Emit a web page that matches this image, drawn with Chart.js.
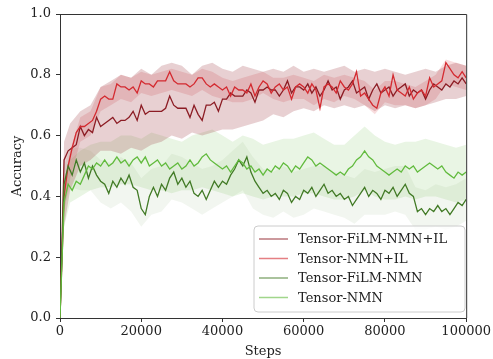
<!DOCTYPE html>
<html><head><meta charset="utf-8">
<script src="https://cdn.jsdelivr.net/npm/chart.js@4.4.1/dist/chart.umd.min.js"></script>
<style>html,body{margin:0;padding:0;background:#fff}#wrap{width:493px;height:359px;position:relative}</style>
</head><body><div id="wrap"><canvas id="c"></canvas></div>
<script>
const seriesNames = ["Tensor-FiLM-NMN+IL", "Tensor-NMN+IL", "Tensor-FiLM-NMN", "Tensor-NMN"];
const xTicks = [0, 20000, 40000, 60000, 80000, 100000];
const yTicks = [0.0, 0.2, 0.4, 0.6, 0.8, 1.0];

const steps = [0,1000,2000,3000,4000,5000,6000,7000,8000,9000,
10000,11000,12000,13000,14000,15000,16000,17000,18000,19000,
20000,21000,22000,23000,24000,25000,26000,27000,28000,29000,
30000,31000,32000,33000,34000,35000,36000,37000,38000,39000,
40000,41000,42000,43000,44000,45000,46000,47000,48000,49000,
50000,51000,52000,53000,54000,55000,56000,57000,58000,59000,
60000,61000,62000,63000,64000,65000,66000,67000,68000,69000,
70000,71000,72000,73000,74000,75000,76000,77000,78000,79000,
80000,81000,82000,83000,84000,85000,86000,87000,88000,89000,
90000,91000,92000,93000,94000,95000,96000,97000,98000,99000,100000];

const filmNmnIL = [0.0,0.52,0.55,0.56,0.57,0.63,0.60,0.62,0.61,0.66,
0.63,0.64,0.65,0.66,0.64,0.65,0.65,0.66,0.68,0.65,
0.70,0.67,0.68,0.68,0.68,0.68,0.69,0.73,0.70,0.69,
0.69,0.69,0.66,0.70,0.67,0.65,0.70,0.70,0.71,0.68,
0.72,0.72,0.74,0.73,0.73,0.73,0.75,0.74,0.71,0.75,
0.75,0.76,0.75,0.75,0.73,0.75,0.78,0.74,0.76,0.76,
0.75,0.77,0.74,0.76,0.73,0.75,0.78,0.75,0.76,0.72,
0.75,0.76,0.78,0.74,0.75,0.76,0.72,0.75,0.77,0.74,
0.75,0.76,0.73,0.75,0.76,0.77,0.73,0.75,0.74,0.75,
0.72,0.75,0.77,0.76,0.75,0.77,0.76,0.78,0.77,0.79,0.77];

const nmnIL = [0.0,0.40,0.50,0.56,0.61,0.63,0.63,0.64,0.65,0.68,
0.72,0.73,0.72,0.72,0.77,0.76,0.76,0.75,0.76,0.74,
0.78,0.77,0.77,0.76,0.78,0.78,0.78,0.81,0.78,0.77,
0.77,0.77,0.76,0.77,0.79,0.79,0.77,0.76,0.77,0.76,
0.75,0.76,0.73,0.76,0.75,0.75,0.74,0.77,0.73,0.76,
0.78,0.77,0.74,0.76,0.77,0.75,0.76,0.72,0.76,0.77,
0.76,0.74,0.77,0.75,0.69,0.76,0.77,0.76,0.74,0.78,
0.76,0.75,0.77,0.81,0.73,0.74,0.72,0.70,0.69,0.74,
0.76,0.73,0.80,0.75,0.74,0.73,0.76,0.72,0.74,0.75,
0.73,0.79,0.76,0.77,0.78,0.84,0.82,0.80,0.79,0.81,0.79];

const filmNmn = [0.0,0.44,0.50,0.47,0.52,0.48,0.51,0.46,0.50,0.47,
0.45,0.44,0.41,0.45,0.43,0.46,0.44,0.47,0.43,0.42,
0.36,0.34,0.40,0.43,0.40,0.44,0.42,0.46,0.48,0.44,
0.46,0.43,0.45,0.41,0.40,0.42,0.39,0.42,0.45,0.43,
0.45,0.44,0.47,0.49,0.52,0.50,0.53,0.48,0.45,0.43,
0.41,0.42,0.40,0.41,0.39,0.42,0.41,0.38,0.40,0.39,
0.42,0.41,0.43,0.40,0.42,0.44,0.41,0.42,0.40,0.41,
0.39,0.40,0.37,0.39,0.41,0.43,0.40,0.42,0.41,0.39,
0.42,0.41,0.43,0.40,0.42,0.44,0.41,0.40,0.35,0.36,
0.34,0.36,0.35,0.37,0.35,0.36,0.34,0.36,0.38,0.37,0.39];

const nmn = [0.0,0.38,0.44,0.42,0.45,0.44,0.47,0.50,0.49,0.51,
0.50,0.52,0.50,0.51,0.53,0.51,0.52,0.50,0.52,0.53,
0.51,0.53,0.50,0.51,0.52,0.50,0.51,0.49,0.50,0.51,
0.49,0.50,0.52,0.50,0.51,0.53,0.54,0.52,0.51,0.50,
0.49,0.50,0.48,0.50,0.52,0.51,0.49,0.50,0.48,0.49,
0.47,0.49,0.48,0.50,0.49,0.51,0.50,0.48,0.50,0.49,
0.51,0.53,0.52,0.50,0.51,0.50,0.49,0.48,0.47,0.48,
0.47,0.49,0.50,0.52,0.53,0.55,0.53,0.52,0.50,0.49,
0.48,0.47,0.48,0.49,0.48,0.50,0.49,0.50,0.48,0.49,
0.50,0.51,0.50,0.49,0.50,0.48,0.47,0.46,0.48,0.47,0.48];

const bandSteps = [0,1000,2500,5000,7500,10000,12500,15000,17500,20000,
22500,25000,27500,30000,32500,35000,37500,40000,42500,45000,
47500,50000,52500,55000,57500,60000,62500,65000,67500,70000,
72500,75000,77500,80000,82500,85000,87500,90000,92500,95000,97500,100000];

const filmNmnILLow = [0,0.30,0.42,0.50,0.52,0.55,0.55,0.54,0.56,0.55,
0.57,0.58,0.60,0.59,0.61,0.60,0.61,0.62,0.62,0.63,
0.64,0.65,0.67,0.66,0.68,0.69,0.68,0.70,0.69,0.70,
0.69,0.70,0.68,0.70,0.69,0.70,0.69,0.70,0.71,0.72,0.72,0.73];
const filmNmnILHigh = [0,0.58,0.64,0.68,0.70,0.76,0.78,0.80,0.79,0.82,
0.80,0.83,0.84,0.83,0.80,0.83,0.84,0.82,0.81,0.83,
0.82,0.81,0.82,0.81,0.83,0.81,0.82,0.81,0.82,0.83,
0.81,0.82,0.81,0.82,0.81,0.80,0.81,0.82,0.81,0.83,0.84,0.83];
const nmnILLow = [0,0.35,0.46,0.58,0.60,0.68,0.70,0.72,0.71,0.74,
0.73,0.74,0.75,0.74,0.73,0.75,0.73,0.72,0.71,0.71,
0.72,0.74,0.72,0.71,0.72,0.72,0.70,0.72,0.71,0.73,
0.72,0.70,0.67,0.71,0.70,0.70,0.69,0.70,0.72,0.77,0.76,0.75];
const nmnILHigh = [0,0.45,0.55,0.66,0.68,0.76,0.77,0.80,0.79,0.81,
0.80,0.81,0.82,0.81,0.80,0.82,0.81,0.79,0.78,0.79,
0.80,0.81,0.79,0.79,0.80,0.79,0.78,0.80,0.79,0.80,
0.79,0.78,0.75,0.78,0.78,0.77,0.76,0.78,0.80,0.85,0.84,0.83];
const filmNmnLow = [0,0.36,0.43,0.42,0.42,0.38,0.36,0.38,0.35,0.30,
0.34,0.35,0.39,0.38,0.36,0.34,0.36,0.38,0.40,0.42,
0.36,0.34,0.33,0.35,0.33,0.34,0.36,0.35,0.34,0.33,
0.31,0.34,0.34,0.34,0.35,0.34,0.29,0.29,0.30,0.29,0.30,0.32];
const filmNmnHigh = [0,0.50,0.56,0.56,0.55,0.52,0.51,0.53,0.51,0.46,
0.49,0.50,0.54,0.53,0.51,0.49,0.50,0.52,0.55,0.58,
0.53,0.49,0.48,0.50,0.48,0.49,0.50,0.50,0.48,0.47,
0.46,0.49,0.48,0.49,0.50,0.50,0.43,0.42,0.44,0.43,0.44,0.46];
const nmnLow = [0,0.30,0.38,0.40,0.42,0.43,0.43,0.44,0.44,0.43,
0.42,0.42,0.41,0.42,0.42,0.43,0.42,0.41,0.40,0.41,
0.40,0.39,0.40,0.40,0.40,0.41,0.41,0.40,0.39,0.39,
0.40,0.42,0.40,0.39,0.39,0.40,0.39,0.40,0.40,0.39,0.38,0.39];
const nmnHigh = [0,0.46,0.52,0.55,0.57,0.58,0.58,0.60,0.60,0.59,
0.61,0.60,0.59,0.58,0.60,0.61,0.62,0.60,0.58,0.60,
0.59,0.57,0.58,0.59,0.59,0.60,0.61,0.59,0.57,0.57,
0.60,0.63,0.60,0.58,0.57,0.58,0.58,0.59,0.58,0.57,0.56,0.57];

const lineColors = ["#8c1c24", "#d42a30", "#417a25", "#62bb3e"];
const legendColors = ["rgba(140,28,36,0.6)", "rgba(212,42,48,0.6)", "rgba(65,122,37,0.6)", "rgba(98,187,62,0.6)"];
const bandColors = ["rgba(150,40,50,0.22)", "rgba(212,42,48,0.16)", "rgba(65,122,37,0.07)", "rgba(98,187,62,0.14)"];

const FONT = "'DejaVu Serif', serif";
function pts(xs, ys) { return ys.map((v, i) => ({x: xs[i], y: v})); }

const lines = [filmNmnIL, nmnIL, filmNmn, nmn];
const lows = [filmNmnILLow, nmnILLow, filmNmnLow, nmnLow];
const highs = [filmNmnILHigh, nmnILHigh, filmNmnHigh, nmnHigh];

const datasets = [];
for (let k = 0; k < 4; k++) {
  datasets.push({label: seriesNames[k] + " low", data: pts(bandSteps, lows[k]), borderWidth: 0, pointRadius: 0, fill: false, order: 20 + k, borderColor: "rgba(0,0,0,0)"});
  datasets.push({label: seriesNames[k] + " high", data: pts(bandSteps, highs[k]), borderWidth: 0, pointRadius: 0, fill: "-1", backgroundColor: bandColors[k], order: 20 + k, borderColor: "rgba(0,0,0,0)"});
}
for (let k = 0; k < 4; k++) {
  datasets.push({label: seriesNames[k], data: pts(steps, lines[k]), borderColor: lineColors[k], borderWidth: 1.3, pointRadius: 0, fill: false, tension: 0, order: 10 - k});
}

const frame = {
  id: "frame",
  afterDraw(chart) {
    const {ctx, chartArea: a} = chart;
    ctx.save();
    ctx.strokeStyle = "#333";
    ctx.lineWidth = 1;
    ctx.beginPath();
    ctx.moveTo(a.left, a.top + 0.5); ctx.lineTo(a.right + 0.5, a.top + 0.5); ctx.lineTo(a.right + 0.5, a.bottom);
    ctx.stroke();
    const bx = 254, by = 226, bw = 211, bh = 86, r = 4;
    ctx.beginPath();
    ctx.moveTo(bx + r, by); ctx.lineTo(bx + bw - r, by); ctx.quadraticCurveTo(bx + bw, by, bx + bw, by + r);
    ctx.lineTo(bx + bw, by + bh - r); ctx.quadraticCurveTo(bx + bw, by + bh, bx + bw - r, by + bh);
    ctx.lineTo(bx + r, by + bh); ctx.quadraticCurveTo(bx, by + bh, bx, by + bh - r);
    ctx.lineTo(bx, by + r); ctx.quadraticCurveTo(bx, by, bx + r, by);
    ctx.closePath();
    ctx.fillStyle = "rgba(255,255,255,0.82)";
    ctx.fill();
    ctx.strokeStyle = "#cccccc";
    ctx.stroke();
    ctx.font = "13px " + FONT;
    ctx.textBaseline = "middle";
    for (let k = 0; k < 4; k++) {
      const y = 239 + k * 19.5;
      ctx.strokeStyle = legendColors[k];
      ctx.lineWidth = 1.5;
      ctx.beginPath(); ctx.moveTo(259, y); ctx.lineTo(288, y); ctx.stroke();
      ctx.fillStyle = "#222";
      ctx.fillText(seriesNames[k], 298, y + 1);
    }
    ctx.restore();
  }
};

new Chart(document.getElementById("c"), {
  type: "line",
  data: {datasets},
  options: {
    responsive: true,
    maintainAspectRatio: false,
    animation: false,
    events: [],
    layout: {padding: {top: 14, right: 26, left: 0, bottom: 0}},
    plugins: {legend: {display: false}, tooltip: {enabled: false}},
    scales: {
      x: {
        type: "linear", min: 0, max: 100000,
        afterBuildTicks(s) { s.ticks = xTicks.map(v => ({value: v})); },
        afterFit(s) { s.height = 41; },
        grid: {display: true, drawOnChartArea: false, drawTicks: true, tickLength: 4, color: "#333"},
        border: {display: true, color: "#333", width: 1},
        ticks: {font: {family: FONT, size: 13}, color: "#222", padding: 2, maxRotation: 0, callback: v => String(v)},
        title: {display: true, text: "Steps", font: {family: FONT, size: 13}, color: "#222", padding: {top: 0, bottom: 0}}
      },
      y: {
        type: "linear", min: 0, max: 1,
        afterBuildTicks(s) { s.ticks = yTicks.map(v => ({value: v})); },
        afterFit(s) { s.width = 60; },
        grid: {display: true, drawOnChartArea: false, drawTicks: true, tickLength: 4, color: "#333"},
        border: {display: true, color: "#333", width: 1},
        ticks: {font: {family: FONT, size: 13}, color: "#222", padding: 5, callback: v => v.toFixed(1)},
        title: {display: true, text: "Accuracy", font: {family: FONT, size: 13}, color: "#222", padding: {top: 10, bottom: 0}}
      }
    }
  },
  plugins: [frame]
});
</script></body></html>
